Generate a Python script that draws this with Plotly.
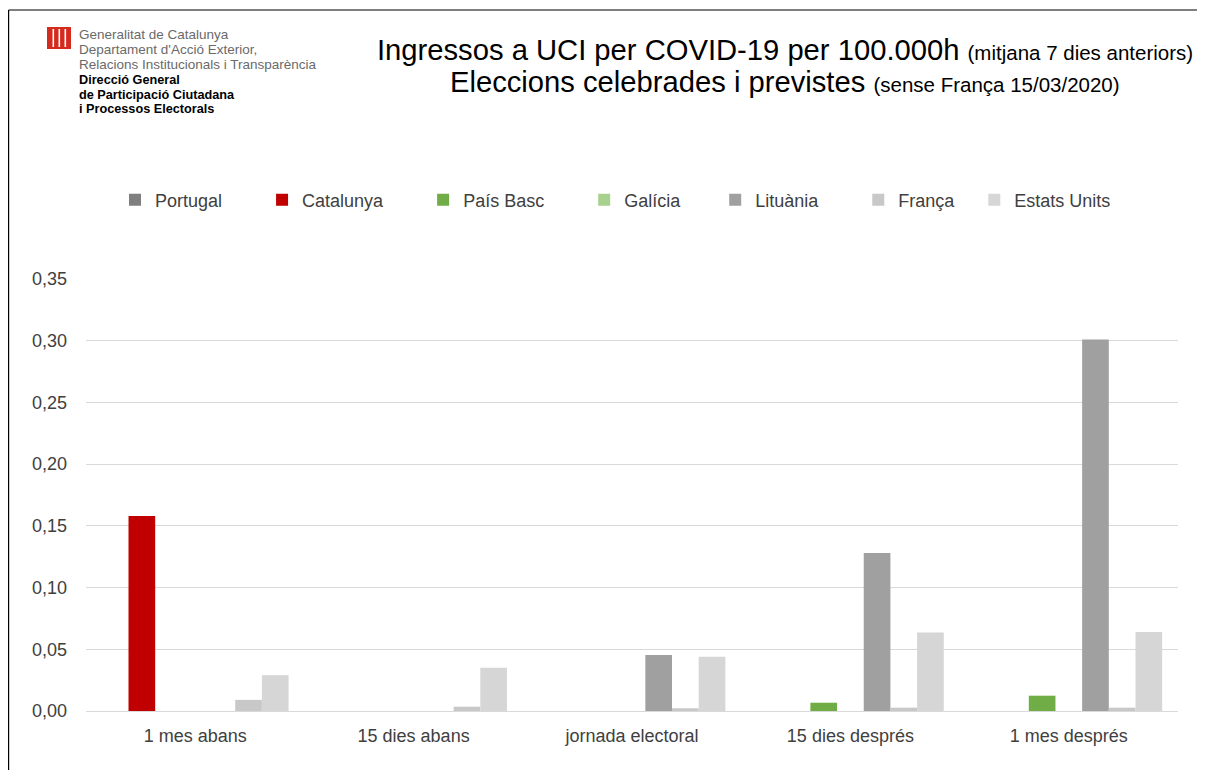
import plotly.graph_objects as go

categories = ["1 mes abans", "15 dies abans", "jornada electoral", "15 dies després", "1 mes després"]

portugal = [0, 0, 0, 0, 0]
catalunya = [0.158, 0, 0, 0, 0]
pais_basc = [0, 0, 0, 0.0067, 0.0124]
galicia = [0, 0, 0, 0, 0]
lituania = [0, 0, 0.0454, 0.128, 0.301]
franca = [0.009, 0.0035, 0.0022, 0.0027, 0.0027]
estats_units = [0.029, 0.035, 0.044, 0.0635, 0.064]

series_names = ["Portugal", "Catalunya", "País Basc", "Galícia", "Lituània", "França", "Estats Units"]
series_values = [portugal, catalunya, pais_basc, galicia, lituania, franca, estats_units]
series_colors = ["#7f7f7f", "#c00000", "#70ad47", "#a9d18e", "#a0a0a0", "#c8c8c8", "#d6d6d6"]
legend_pad = [7, 7, 7, 6, 7, 3, 0]

y_ticks = [0, 0.05, 0.10, 0.15, 0.20, 0.25, 0.30, 0.35]

# page body has an 8px margin: work in page coordinates, then offset
OFF = 8
PAGE_W, PAGE_H = 1205, 778
W, H = PAGE_W - 2 * OFF, PAGE_H - 2 * OFF
# plot area in page coordinates
PL, PR, PT, PB = 86, 1178, 279, 711
L, T = PL - OFF, PT - OFF
R, B = W - (PR - OFF), H - (PB - OFF)
PW, PH = PR - PL, PB - PT


def px(x):
    return (x - PL) / PW


def py(y):
    return (PB - y) / PH


fig = go.Figure()
for name, vals, col, pad in zip(series_names, series_values, series_colors, legend_pad):
    fig.add_trace(go.Bar(
        x=categories, y=vals, name=name + "\u00a0" * pad,
        marker=dict(color=col, line=dict(width=0)),
    ))

font_main = "Arial, Liberation Sans, sans-serif"

fig.update_layout(
    width=W, height=H,
    margin=dict(l=L, r=R, t=T, b=B),
    paper_bgcolor="white", plot_bgcolor="white",
    barmode="group", bargap=0.145, bargroupgap=0,
    separators=",.",
    font=dict(family=font_main, size=18, color="#404040"),
    showlegend=True,
    legend=dict(
        orientation="h", x=px(115), xanchor="left", y=py(200), yanchor="middle",
        font=dict(size=18, color="#404040"), bgcolor="rgba(0,0,0,0)",
    ),
    xaxis=dict(
        showgrid=False, showline=False, ticks="", ticklabelstandoff=12,
        tickfont=dict(size=18, color="#404040"),
    ),
    yaxis=dict(
        range=[0, 0.35], tickvals=y_ticks, tickformat=".2f",
        showgrid=True, gridcolor="#d9d9d9", gridwidth=1,
        zeroline=True, zerolinecolor="#d9d9d9", zerolinewidth=1,
        showline=False, ticks="", ticklabelstandoff=18,
        tickfont=dict(size=18, color="#404040"),
    ),
)

annotations = [
    dict(text="Ingressos a UCI per COVID-19 per 100.000h <span style='font-size:20.5px'>(mitjana 7 dies anteriors)</span>",
         x=px(785), y=py(50), xanchor="center", yanchor="middle",
         font=dict(size=29.2, color="#000000")),
    dict(text="Eleccions celebrades i previstes <span style='font-size:20.5px'>(sense França 15/03/2020)</span>",
         x=px(785), y=py(82), xanchor="center", yanchor="middle",
         font=dict(size=29.2, color="#000000")),
]
logo_lines = [
    ("Generalitat de Catalunya", 34, False),
    ("Departament d'Acció Exterior,", 49, False),
    ("Relacions Institucionals i Transparència", 64, False),
    ("Direcció General", 80, True),
    ("de Participació Ciutadana", 95, True),
    ("i Processos Electorals", 109, True),
]
for txt, yy, bold in logo_lines:
    annotations.append(dict(
        text=("<b>%s</b>" % txt) if bold else txt,
        x=px(77), y=py(yy), xanchor="left", yanchor="middle",
        font=dict(size=12.7 if bold else 13.5, color="#000000" if bold else "#6a6a6a"),
    ))
for a in annotations:
    a.update(xref="paper", yref="paper", showarrow=False)
fig.update_layout(annotations=annotations)

shapes = [
    dict(type="rect", x0=px(47), x1=px(71), y0=py(49), y1=py(27),
         fillcolor="#d52b1e", line=dict(width=0)),
]
for sx in [52.5, 58.5, 64.5]:
    shapes.append(dict(type="rect", x0=px(sx), x1=px(sx + 1.6), y0=py(47), y1=py(29),
                       fillcolor="white", line=dict(width=0)))
shapes.append(dict(type="line", x0=px(8.6), x1=px(1200), y0=py(10), y1=py(10),
                   line=dict(color="#000000", width=1.2)))
shapes.append(dict(type="line", x0=px(8.6), x1=px(8.6), y0=py(10), y1=py(780),
                   line=dict(color="#000000", width=1.2)))
for s in shapes:
    s.update(xref="paper", yref="paper", layer="above")
fig.update_layout(shapes=shapes)

fig.write_html("out.html")
